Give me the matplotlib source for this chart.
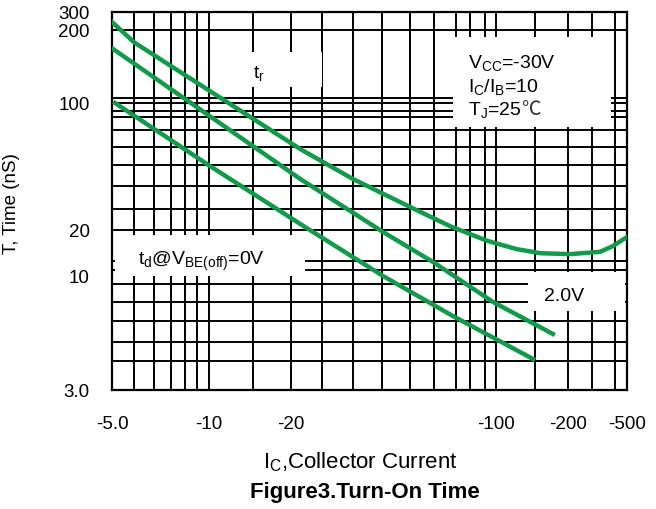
import numpy as np
import matplotlib
matplotlib.use('Agg')
import matplotlib.pyplot as plt
from matplotlib.patches import Rectangle

plt.rcParams['font.family'] = ['Liberation Sans', 'DejaVu Sans']
plt.rcParams['mathtext.fontset'] = 'custom'
plt.rcParams['mathtext.rm'] = 'Liberation Sans'
plt.rcParams['mathtext.default'] = 'regular'

# values: |Ic| (mA) vs time (ns)
tr_ic = [5, 5.85, 21.5, 32.5, 50.9, 69.7, 93.2, 122, 153, 206, 329, 402, 500]
tr_t = [240, 178, 55.8, 38.2, 26.8, 21.0, 17.0, 15.0, 14.1, 13.9, 14.4, 15.7, 18.0]

td_mid_ic = [5.04, 21.5, 41.2, 61.0, 97.7, 173]
td_mid_t = [167, 38.2, 19.4, 12.35, 7.6, 5.42]

td_low_ic = [5.11, 10.08, 21.5, 41.2, 71.3, 143]
td_low_t = [100, 45.0, 21.6, 10.0, 6.55, 4.16]

xticks = [5, 10, 20, 100, 200, 500]
xticklabels = ['-5.0', '-10', '-20', '-100', '-200', '-500']
yticks = [3, 10, 20, 100, 200, 300]
yticklabels = ['3.0', '10', '20', '100', '200', '300']

# the printed "log paper" is not evenly spaced, so the scale is
# piecewise in log10 between the labelled ticks
x_pos = [0, 97, 179, 384, 456, 515]
y_pos = [0, 114, 160, 287, 360, 378]

xgrid = [5.85, 6.75, 7.6, 8.4, 9.2, 10, 14.5, 20, 25.5, 32.5, 41, 51, 61.5,
         73, 81.5, 92, 100, 146, 200, 290, 415]
ygrid = [4.07, 5.0, 6.2, 7.6, 9.2, 10.9, 12.5, 20, 26, 35, 45.5, 57, 71, 84,
         90, 100, 105, 200]


def make_scale(vals, pos):
    lv = np.log10(vals)
    p = np.array(pos, dtype=float)

    def fwd(v):
        return np.interp(np.log10(np.clip(v, 1e-6, None)), lv, p)

    def inv(q):
        return 10 ** np.interp(q, p, lv)
    return fwd, inv


fig = plt.figure(figsize=(6.56, 5.10), dpi=100)
ax = fig.add_axes([112 / 656, 119 / 510, 515 / 656, 378 / 510])
ax.set_xscale('function', functions=make_scale(xticks, x_pos))
ax.set_yscale('function', functions=make_scale(yticks, y_pos))
ax.set_xlim(5, 500)
ax.set_ylim(3, 300)

for g in xgrid:
    ax.axvline(g, color='black', lw=1.4, zorder=1)
for g in ygrid:
    ax.axhline(g, color='black', lw=1.4, zorder=1)

# white label boxes that blank out the grid (axes fraction)
boxes = [(0.264, 0.802, 0.144, 0.092),
         (0.662, 0.696, 0.307, 0.238),
         (0.006, 0.302, 0.369, 0.108),
         (0.808, 0.209, 0.188, 0.103)]
for bx, by, bw, bh in boxes:
    ax.add_patch(Rectangle((bx, by), bw, bh, transform=ax.transAxes,
                           facecolor='white', edgecolor='none', zorder=2))

green = '#119a4a'
ax.plot(tr_ic, tr_t, color=green, lw=3.2, zorder=3)
ax.plot(td_mid_ic, td_mid_t, color=green, lw=3.2, zorder=3)
ax.plot(td_low_ic, td_low_t, color=green, lw=3.2, zorder=3)

ax.set_xticks(xticks)
ax.set_xticklabels(xticklabels)
ax.set_yticks(yticks)
ax.set_yticklabels(yticklabels)
ax.minorticks_off()
ax.tick_params(length=0, labelsize=13.5)
ax.tick_params(axis='x', pad=18)
ax.tick_params(axis='y', pad=16)
for s in ax.spines.values():
    s.set_linewidth(1.6)

fs = 14
ax.text(0.274, 0.828, 't$_{\\rm r}$', transform=ax.transAxes, fontsize=fs,
        va='baseline', zorder=4)
ax.text(0.691, 0.854, 'V$_{\\rm CC}$=-30V', transform=ax.transAxes,
        fontsize=fs, va='baseline', zorder=4)
ax.text(0.691, 0.791, 'I$_{\\rm C}$/I$_{\\rm B}$=10', transform=ax.transAxes,
        fontsize=fs, va='baseline', zorder=4)
tj = ax.text(0.691, 0.730, 'T$_{\\rm J}$=25', transform=ax.transAxes,
             fontsize=fs, va='baseline', zorder=4)
ax.annotate('\u2103', xy=(1, 0), xycoords=tj, va='bottom', fontsize=fs,
            family=['Noto Sans CJK SC', 'DejaVu Sans'], color='#333333',
            zorder=4)
ax.text(0.050, 0.333, 't$_{\\rm d}$@V$_{\\rm BE(off)}$=0V',
        transform=ax.transAxes, fontsize=fs, va='baseline', zorder=4)
ax.text(0.839, 0.238, '2.0V', transform=ax.transAxes, fontsize=fs,
        va='baseline', zorder=4)

fig.text(0.018, 0.60, 'T, Time (nS)', rotation=90, ha='center', va='center',
         fontsize=13.5)
fig.text(0.549, 0.094, 'I$_{\\rm C}$,Collector Current', ha='center',
         va='center', fontsize=16)
fig.text(0.556, 0.035, 'Figure3.Turn-On Time', ha='center', va='center',
         fontsize=16, fontweight='bold')

fig.savefig('out.png', dpi=100)
